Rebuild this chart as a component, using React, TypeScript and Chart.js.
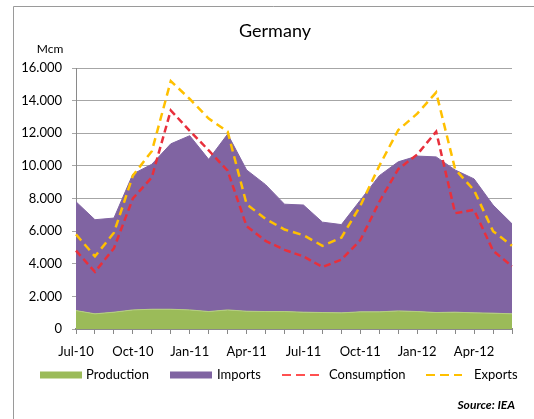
import React, { useEffect, useRef } from "react";
import { Chart, registerables } from "chart.js";

Chart.register(...registerables);

const months = [
  "Jul-10", "Aug-10", "Sep-10", "Oct-10", "Nov-10", "Dec-10",
  "Jan-11", "Feb-11", "Mar-11", "Apr-11", "May-11", "Jun-11",
  "Jul-11", "Aug-11", "Sep-11", "Oct-11", "Nov-11", "Dec-11",
  "Jan-12", "Feb-12", "Mar-12", "Apr-12", "May-12", "Jun-12",
];

const production = [
  1130, 930, 1030, 1170, 1210, 1210, 1170, 1070, 1170, 1090, 1070, 1070,
  1030, 1010, 990, 1050, 1050, 1110, 1070, 1010, 1030, 990, 970, 930,
];

const imports = [
  6670, 5770, 5770, 8330, 8890, 10140, 10680, 9330, 10780, 8660, 7780, 6580,
  6570, 5540, 5410, 6850, 8350, 9140, 9530, 9540, 8720, 8210, 6630, 5520,
];

const consumption = [
  4800, 3500, 4950, 8000, 9300, 13400, 12150, 10950, 9700, 6300, 5400, 4850,
  4450, 3800, 4250, 5450, 7800, 9800, 10700, 12100, 7100, 7300, 4800, 3850,
];

const exportsData = [
  5800, 4450, 5900, 9400, 10900, 15200, 14100, 12900, 12100, 7650, 6750, 6100,
  5750, 5100, 5600, 7550, 10000, 12200, 13200, 14500, 9800, 8500, 6000, 5100,
];

const yTicks = [0, 2000, 4000, 6000, 8000, 10000, 12000, 14000, 16000];

const GREEN = "#9BBB59";
const PURPLE = "#8064A2";
const RED = "#E8303C";
const YELLOW = "#FFC000";
const FONT = "Lato, 'Open Sans', sans-serif";

function fmt(v: number): string {
  if (v === 0) return "0";
  const t = Math.floor(v / 1000);
  const r = String(v % 1000).padStart(3, "0");
  return `${t}.${r}`;
}

const decorPlugin = {
  id: "decor",
  afterDraw(chart: any) {
    const ctx = chart.ctx as CanvasRenderingContext2D;
    ctx.save();
    // outer border
    ctx.strokeStyle = "#9a9a9a";
    ctx.lineWidth = 1;
    ctx.beginPath();
    ctx.moveTo(13.5, 419);
    ctx.lineTo(13.5, 6.5);
    ctx.lineTo(534, 6.5);
    ctx.stroke();

    // title
    ctx.fillStyle = "#000";
    ctx.textAlign = "center";
    ctx.textBaseline = "middle";
    ctx.font = `18px ${FONT}`;
    ctx.fillText("Germany", 275, 31);

    // unit
    ctx.font = `12px ${FONT}`;
    ctx.fillText("Mcm", 50, 49);

    // legend
    const ly = 375;
    ctx.font = `13px ${FONT}`;
    ctx.textAlign = "left";
    ctx.fillStyle = GREEN;
    ctx.fillRect(40, ly - 3.5, 42, 7);
    ctx.fillStyle = "#000";
    ctx.fillText("Production", 86, ly);
    ctx.fillStyle = PURPLE;
    ctx.fillRect(170, ly - 3.5, 42, 7);
    ctx.fillStyle = "#000";
    ctx.fillText("Imports", 217, ly);

    ctx.lineWidth = 2;
    ctx.setLineDash([9, 5]);
    ctx.strokeStyle = "#FF5050";
    ctx.beginPath();
    ctx.moveTo(282, ly);
    ctx.lineTo(319, ly);
    ctx.stroke();
    ctx.fillText("Consumption", 329, ly);

    ctx.strokeStyle = YELLOW;
    ctx.beginPath();
    ctx.moveTo(426, ly);
    ctx.lineTo(462, ly);
    ctx.stroke();
    ctx.setLineDash([]);
    ctx.fillText("Exports", 474, ly);

    // source
    ctx.textAlign = "right";
    ctx.font = `italic bold 12px ${FONT}`;
    ctx.fillText("Source: IEA", 515, 405);
    ctx.restore();
  },
};

export default function App() {
  const ref = useRef<HTMLCanvasElement | null>(null);

  useEffect(() => {
    if (!ref.current) return;
    const totals = production.map((p, i) => p + imports[i]);
    const chart = new Chart(ref.current, {
      type: "line",
      data: {
        labels: months,
        datasets: [
          {
            label: "Production",
            data: production,
            fill: "origin",
            backgroundColor: GREEN,
            borderColor: "#b5cf80",
            borderWidth: 1,
            pointRadius: 0,
            tension: 0,
            order: 1,
          },
          {
            label: "Imports",
            data: totals,
            fill: "-1",
            backgroundColor: PURPLE,
            borderColor: PURPLE,
            borderWidth: 1,
            pointRadius: 0,
            tension: 0,
            order: 2,
          },
          {
            label: "Consumption",
            data: consumption,
            fill: false,
            borderColor: RED,
            borderWidth: 2.5,
            borderDash: [7, 4],
            pointRadius: 0,
            tension: 0,
            order: 0,
          },
          {
            label: "Exports",
            data: exportsData,
            fill: false,
            borderColor: YELLOW,
            borderWidth: 2.5,
            borderDash: [8, 5],
            pointRadius: 0,
            tension: 0,
            order: 0,
          },
        ],
      },
      options: {
        responsive: false,
        animation: false,
        devicePixelRatio: 1,
        layout: { padding: { top: 68, right: 22, bottom: 0, left: 0 } },
        plugins: {
          legend: { display: false },
          title: { display: false },
          tooltip: { enabled: false },
        },
        scales: {
          x: {
            offset: false,
            grid: {
              drawOnChartArea: false,
              drawTicks: true,
              tickLength: 5,
              tickColor: "#888",
            },
            border: { display: true, color: "#8a8a8a", width: 2 },
            ticks: {
              autoSkip: false,
              maxRotation: 0,
              minRotation: 0,
              padding: 10,
              color: "#000",
              font: { family: FONT, size: 13 },
              callback: (_v: any, i: number) => (i % 3 === 0 ? months[i] : ""),
            },
            afterFit: (s: any) => {
              s.height = 90;
            },
          },
          y: {
            min: 0,
            max: 16000,
            afterBuildTicks: (s: any) => {
              s.ticks = yTicks.map((v) => ({ value: v }));
            },
            grid: {
              color: "#a6a6a6",
              lineWidth: 1,
              drawTicks: true,
              tickLength: 4,
            },
            border: { display: true, color: "#8a8a8a", width: 1 },
            ticks: {
              padding: 10,
              color: "#000",
              font: { family: FONT, size: 13 },
              callback: (v: any) => fmt(Number(v)),
            },
            afterFit: (s: any) => {
              s.width = 76;
            },
          },
        },
      },
      plugins: [decorPlugin],
    });
    return () => chart.destroy();
  }, []);

  return (
    <div style={{ position: "absolute", left: 0, top: 0, width: 534, height: 419, background: "#fff" }}>
      <canvas ref={ref} width={534} height={419} style={{ width: 534, height: 419, display: "block" }} />
    </div>
  );
}
